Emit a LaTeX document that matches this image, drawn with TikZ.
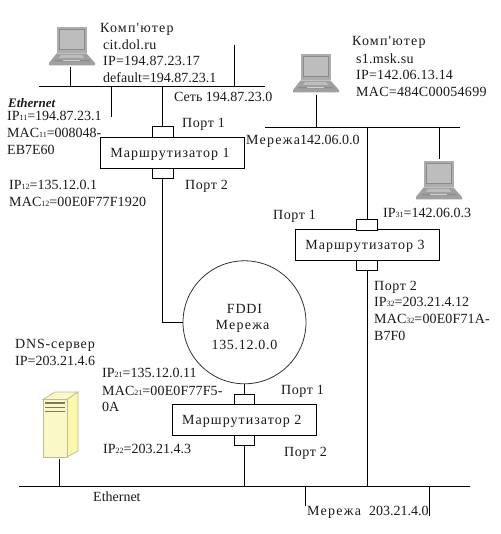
\documentclass[tikz,border=0pt]{standalone}
\usepackage{fontspec}
\newfontfamily\dgfont{Liberation Serif}
\newcommand{\sbs}[1]{{\fontsize{8}{8}\selectfont #1}}
\newcommand{\lsp}[2]{{\addfontfeatures{LetterSpace=#1}#2}}
\definecolor{lapedge}{HTML}{8A8A8A}
\definecolor{lapface}{HTML}{BDBDBD}
\definecolor{lapbase}{HTML}{A0A0A0}
\definecolor{srvface}{HTML}{FBF8C8}
\definecolor{srvedge}{HTML}{BDBB92}
\definecolor{txtc}{HTML}{1A1A1A}
\tikzset{
  txt/.style={anchor=base west,inner sep=0pt,text=txtc},
  wire/.style={draw=black,line width=0.9pt},
  rbox/.style={draw=black,line width=0.8pt,fill=white,minimum width=143.6pt,minimum height=30.7pt,inner sep=0pt,text height=12pt,text depth=2.6pt,text=txtc},
  portbox/.style={draw=black,line width=0.8pt,fill=white,minimum width=20.4pt,minimum height=10.4pt,inner sep=0pt},
  ring/.style={circle,draw=black!80,line width=0.8pt,fill=white,minimum size=123pt,inner sep=0pt,align=center,text=txtc},
  laptop/.pic={
    \fill[lapedge!70] (7.5,0) rectangle (37.5,26.5);
    \fill[lapface] (10,2.5) rectangle (35,22.5);
    \draw[lapedge,line width=0.6pt] (10,2.5) rectangle (35,22.5);
    \fill[lapbase] (7.5,26.5) -- (37.5,26.5) -- (46,36) -- (46,38.5) -- (0,38.5) -- (0,36) -- cycle;
    \fill[lapface] (12,28) -- (33,28) -- (35,31) -- (10,31) -- cycle;
    \fill[black!45] (6,33) -- (40,33) -- (41,34.5) -- (5,34.5) -- cycle;
    \fill[lapface!70] (14,33) rectangle (31,34.5);
  },
  server/.pic={
    \draw[srvedge,fill=srvface,line width=0.7pt] (0,7.5) -- (12,0) -- (35,0) -- (24,7.5) -- cycle;
    \draw[srvedge,fill=srvface!85!yellow,line width=0.7pt] (24,7.5) -- (35,0) -- (35,59) -- (24,65) -- cycle;
    \draw[srvedge,fill=srvface,line width=0.7pt] (0,7.5) rectangle (24,65);
    \draw[black!35!srvedge,line width=1.1pt] (2,11) -- (22,11) (2,15.5) -- (22,15.5) (2,19.5) -- (22,19.5);
  }
}
\begin{document}
\begin{tikzpicture}[x=1pt,y=-1pt,font=\dgfont\fontsize{14}{16}\selectfont]
\useasboundingbox[fill=white] (0,0) rectangle (500,534);
% bus coordinates
\coordinate (busAl) at (39,86.5);  \coordinate (busAr) at (265,86.5);
\coordinate (busBl) at (265,127.3);\coordinate (busBr) at (460,127.3);
\coordinate (busCl) at (19,486.3); \coordinate (busCr) at (470,486.3);
\coordinate (stubA) at (111.7,117);
\coordinate (stubB) at (234.3,45);
\coordinate (stubC) at (305.7,506);
\coordinate (stubD) at (429.3,515.7);
% routers, ports, ring
\node[rbox] (r1) at (172.5,152.6) {\kern-5pt\lsp{7.5}{Маршрутизатор 1}};
\node[portbox] (p1t) at (162.7,132.1) {};
\node[portbox] (p1b) at (162.7,173.2) {};
\node[rbox] (r3) at (367.5,245.1) {\kern-5pt\lsp{7.5}{Маршрутизатор 3}};
\node[portbox] (p3t) at (367,224.7) {};
\node[portbox] (p3b) at (367,265.6) {};
\node[rbox] (r2) at (244.3,419.8) {\kern-5pt\lsp{7.5}{Маршрутизатор 2}};
\node[portbox] (p2t) at (244.5,399.2) {};
\node[portbox] (p2b) at (244.5,440.4) {};
\node[ring] (fddi) at (244.5,322.3) {\rule{0pt}{18.4pt}\lsp{6}{FDDI}\\\kern-4pt\lsp{9}{Мережа}\\[4.7pt]\lsp{5}{135.12.0.0}};
% devices
\pic at (49,27) {laptop};  \coordinate (lap1) at (70.7,67);
\pic at (293,54) {laptop}; \coordinate (lap2) at (316.3,94.7);
\pic at (416,161) {laptop};\coordinate (lap3) at (439.3,159.3);
\pic at (43,392) {server}; \coordinate (srv) at (59.5,459);
% buses
\draw[wire] (busAl) -- (busAr);
\draw[wire] (busBl) -- (busBr);
\draw[wire] (busCl) -- (busCr);
% connectors
\draw[wire] (lap1) -- (lap1 |- busAl);
\draw[wire] (stubA) -- (stubA |- busAl);
\draw[wire] (stubB) -- (stubB |- busAl);
\draw[wire] (p1t.north) -- (p1t.north |- busAl);
\draw[wire] (p1b.south) -- (p1b.south |- fddi.west) -- (fddi.west);
\draw[wire] (lap2) -- (lap2 |- busBl);
\draw[wire] (lap3) -- (lap3 |- busBl);
\draw[wire] (p3t.north) -- (p3t.north |- busBl);
\draw[wire] (p3b.south) -- (p3b.south |- busCl);
\draw[wire] (fddi.south) -- (p2t.north);
\draw[wire] (p2b.south) -- (p2b.south |- busCl);
\draw[wire] (srv) -- (srv |- busCl);
\draw[wire] (stubC) -- (stubC |- busCl);
\draw[wire] (stubD) -- (stubD |- busCl);
% labels
\node[txt] (a1) at (100,33) {\lsp{8.5}{Комп'ютер}};
\node[txt] (a2) at (103,49.3) {\lsp{2}{cit.dol.ru}};
\node[txt] (a3) at (103,66) {\lsp{1.5}{IP=194.87.23.17}};
\node[txt] (a4) at (103,82.7) {default=194.87.23.1};
\node[txt] (a5) at (174,101.7) {Сеть 194.87.23.0};
\node[txt,font=\dgfont\bfseries\itshape\fontsize{13}{16}\selectfont] (a6) at (8,107.7) {Ethernet};
\node[txt] (a7) at (7,121) {IP\sbs{11}=194.87.23.1};
\node[txt] (a8) at (7,137.7) {MAC\sbs{11}=008048-};
\node[txt] (a9) at (7,154.3) {EB7E60};
\node[txt] (a10) at (182,128) {\lsp{4}{Порт 1}};
\node[txt] (a11) at (185,190) {\lsp{4}{Порт 2}};
\node[txt] (a12) at (9,190) {IP\sbs{12}=135.12.0.1};
\node[txt] (a13) at (9,206.7) {\lsp{1}{MAC\sbs{12}=00E0F77F1920}};
\node[txt] (b1) at (352,46) {\lsp{8.5}{Комп'ютер}};
\node[txt] (b2) at (356,63.3) {\lsp{2}{s1.msk.su}};
\node[txt] (b3) at (356,79.3) {\lsp{1.5}{IP=142.06.13.14}};
\node[txt] (b4) at (356,96.7) {\lsp{2}{MAC=484C00054699}};
\node[txt] (b5) at (246,145) {\lsp{9}{Мережа}142.06.0.0};
\node[txt] (b6) at (383,218) {IP\sbs{31}=142.06.0.3};
\node[txt] (b7) at (273,219) {\lsp{4}{Порт 1}};
\node[txt] (b8) at (374,290) {\lsp{4}{Порт 2}};
\node[txt] (b9) at (374,306.7) {IP\sbs{32}=203.21.4.12};
\node[txt] (b10) at (374,323) {\lsp{1}{MAC\sbs{32}=00E0F71A-}};
\node[txt] (b11) at (374,340) {B7F0};
\node[txt] (c1) at (15,348) {\lsp{6}{DNS-сервер}};
\node[txt] (c2) at (15,365) {IP=203.21.4.6};
\node[txt] (c3) at (102,377.7) {IP\sbs{21}=135.12.0.11};
\node[txt] (c4) at (102,395) {\lsp{1}{MAC\sbs{21}=00E0F77F5-}};
\node[txt] (c5) at (102,411.7) {0A};
\node[txt] (c6) at (103,453) {IP\sbs{22}=203.21.4.3};
\node[txt] (c7) at (93,501.7) {Ethernet};
\node[txt] (c8) at (281,394) {\lsp{4}{Порт 1}};
\node[txt] (c9) at (284,456.7) {\lsp{4}{Порт 2}};
\node[txt] (c10) at (307,515) {\lsp{9}{Мережа}};
\node[txt] (c11) at (369,515) {203.21.4.0};
\end{tikzpicture}
\end{document}
